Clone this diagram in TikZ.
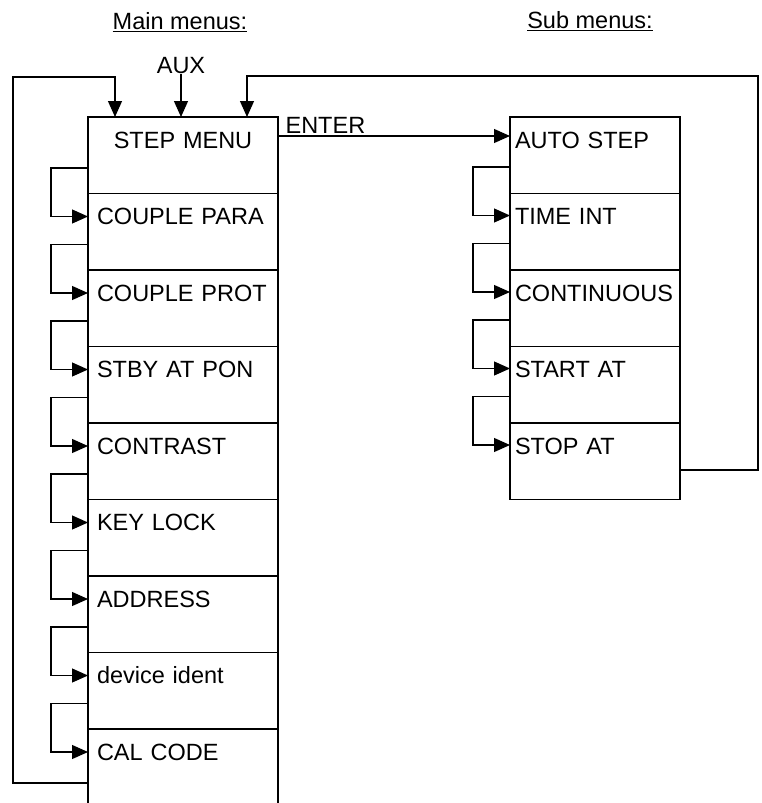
\documentclass[tikz,border=0pt]{standalone}
\usepackage{fontspec}
\setmainfont{Liberation Sans}
\usepackage{tikz}
\usetikzlibrary{arrows.meta, positioning}
\newcommand{\menufont}{\fontsize{23.5}{27}\selectfont}
\tikzset{
  mainbox/.style={rectangle, draw=black, line width=1.2pt, outer sep=0pt,
    inner xsep=9pt, inner ysep=0pt, text width=172pt, minimum width=190pt,
    align=left, text height=31pt, text depth=45.5pt, font=\menufont},
  subbox/.style={mainbox, inner xsep=5pt, text width=160pt, minimum width=170pt},
  plaintext/.style={inner sep=0pt, font=\menufont},
  loopline/.style={-{Triangle[length=16pt, width=14pt]}, line width=1.2pt}
}

\begin{document}
\begin{tikzpicture}[x=1pt, y=-1pt]
  \useasboundingbox (0,0) rectangle (762,803);

  \node[plaintext] (mainhead) at (180,22) {\underline{Main menus:}};
  \node[plaintext] (subhead) at (590,21) {\underline{Sub menus:}};
  \node[plaintext] (aux) at (181,66) {AUX};
  \coordinate (lcorner) at (13,77);
  \coordinate (rcorner) at (758,76);

  % main menus
  \node[mainbox, align=center, anchor=north west] (m1) at (88,117) {STEP MENU};
  \node[mainbox, below=0pt of m1] (m2) {COUPLE PARA};
  \node[mainbox, below=0pt of m2] (m3) {COUPLE PROT};
  \node[mainbox, below=0pt of m3] (m4) {STBY AT PON};
  \node[mainbox, below=0pt of m4] (m5) {CONTRAST};
  \node[mainbox, below=0pt of m5] (m6) {KEY LOCK};
  \node[mainbox, below=0pt of m6] (m7) {ADDRESS};
  \node[mainbox, below=0pt of m7] (m8) {device ident};
  \node[mainbox, draw=none, text depth=43pt, below=0pt of m8] (m9) {CAL CODE};
  \draw[line width=1.2pt] (m9.south west) -- (m9.north west) (m9.north east) -- (m9.south east);

  % sub menus
  \node[subbox, anchor=north west] (s1) at (510,117) {AUTO STEP};
  \node[subbox, below=0pt of s1] (s2) {TIME INT};
  \node[subbox, below=0pt of s2] (s3) {CONTINUOUS};
  \node[subbox, below=0pt of s3] (s4) {START AT};
  \node[subbox, below=0pt of s4] (s5) {STOP AT};

  \draw[loopline] ([yshift=-51pt]m1.north west) -- ++(-37pt,0) |- ([yshift=-23pt]m2.north west);
  \draw[loopline] ([yshift=-51pt]m2.north west) -- ++(-37pt,0) |- ([yshift=-23pt]m3.north west);
  \draw[loopline] ([yshift=-51pt]m3.north west) -- ++(-37pt,0) |- ([yshift=-23pt]m4.north west);
  \draw[loopline] ([yshift=-51pt]m4.north west) -- ++(-37pt,0) |- ([yshift=-23pt]m5.north west);
  \draw[loopline] ([yshift=-51pt]m5.north west) -- ++(-37pt,0) |- ([yshift=-23pt]m6.north west);
  \draw[loopline] ([yshift=-51pt]m6.north west) -- ++(-37pt,0) |- ([yshift=-23pt]m7.north west);
  \draw[loopline] ([yshift=-51pt]m7.north west) -- ++(-37pt,0) |- ([yshift=-23pt]m8.north west);
  \draw[loopline] ([yshift=-51pt]m8.north west) -- ++(-37pt,0) |- ([yshift=-23pt]m9.north west);

  \draw[loopline] ([yshift=-50pt]s1.north west) -- ++(-37pt,0) |- ([yshift=-22pt]s2.north west);
  \draw[loopline] ([yshift=-50pt]s2.north west) -- ++(-37pt,0) |- ([yshift=-22pt]s3.north west);
  \draw[loopline] ([yshift=-50pt]s3.north west) -- ++(-37pt,0) |- ([yshift=-22pt]s4.north west);
  \draw[loopline] ([yshift=-50pt]s4.north west) -- ++(-37pt,0) |- ([yshift=-22pt]s5.north west);

  \draw[loopline] (aux.south) -- (aux.south |- m1.north);
  \draw[loopline] ([yshift=-54pt]m9.north west) -| (lcorner) -| ([xshift=27pt]m1.north west);
  \draw[loopline] ([yshift=-47pt]s5.north east) -| (rcorner) -| ([xshift=-31pt]m1.north east);
  \draw[loopline] ([yshift=-19pt]m1.north east) -- node[plaintext, anchor=south west, pos=0, xshift=7pt, yshift=2pt] (enter) {ENTER} ([yshift=-19pt]s1.north west);
\end{tikzpicture}
\end{document}
